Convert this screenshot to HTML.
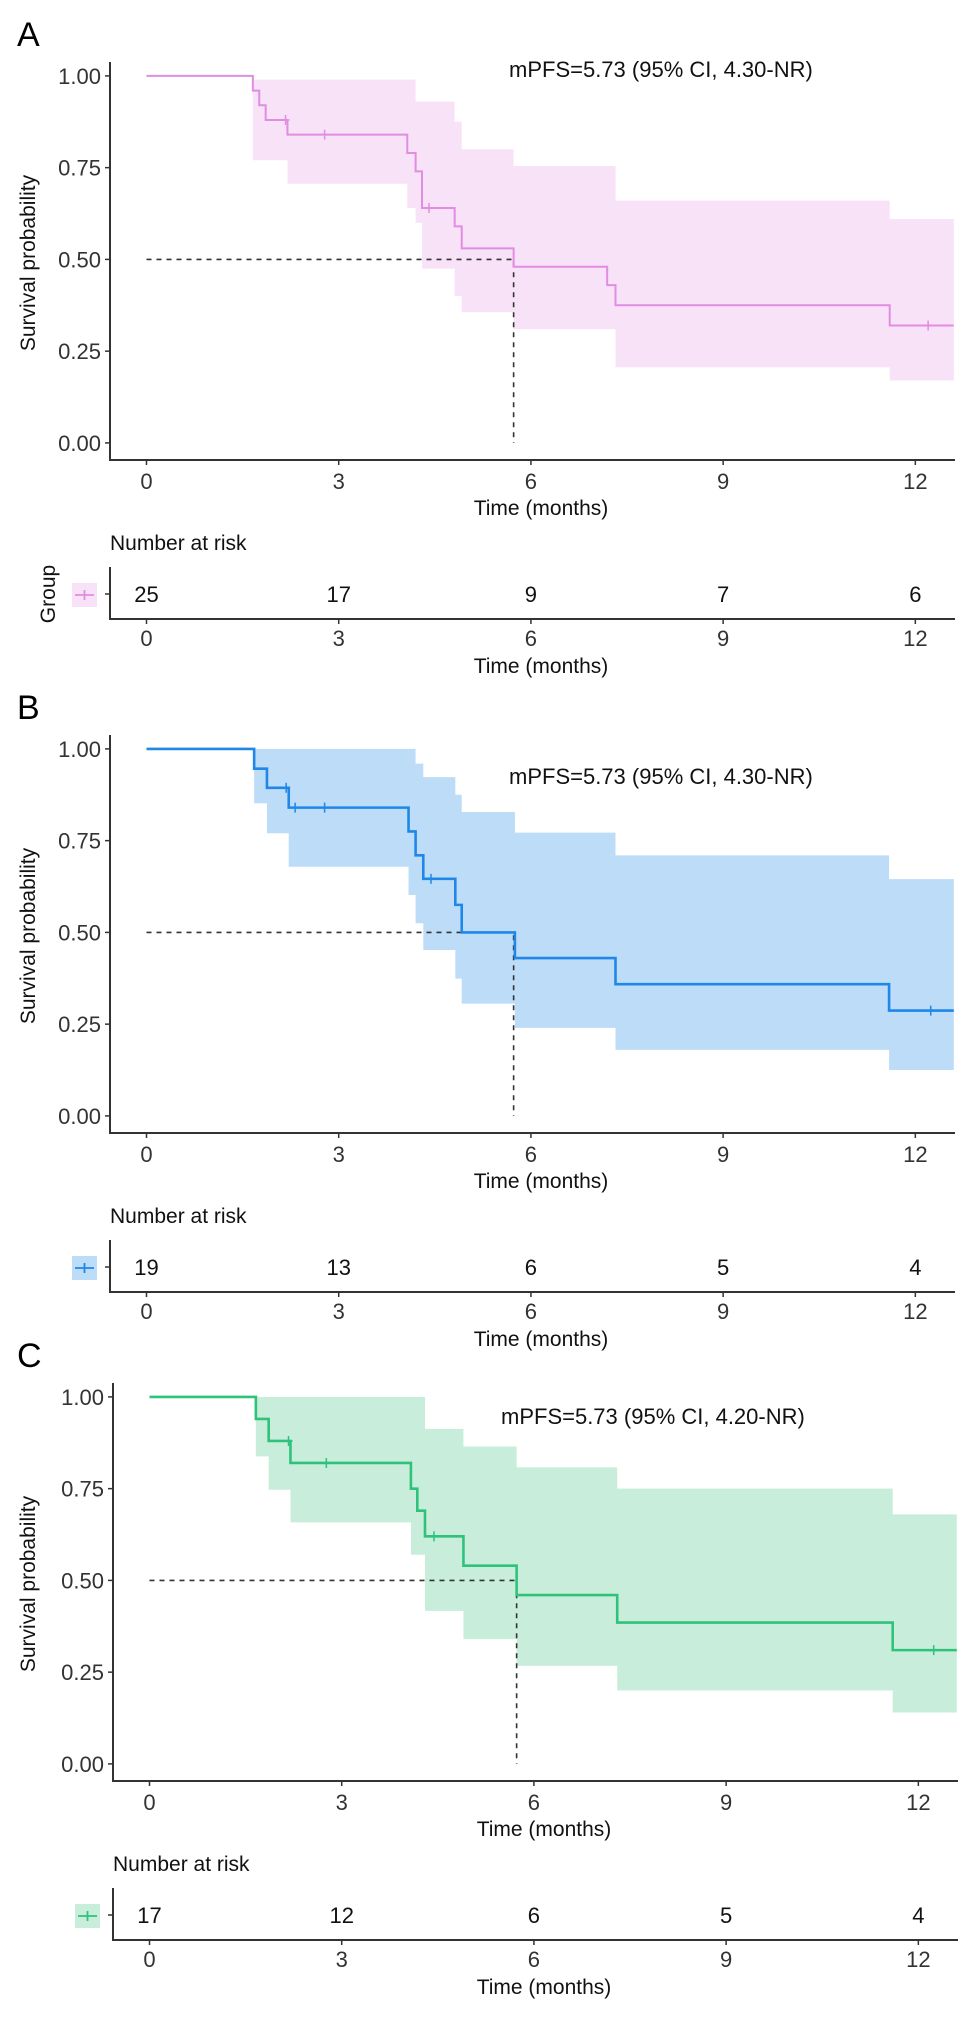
<!DOCTYPE html>
<html><head><meta charset="utf-8"><style>
html,body{margin:0;padding:0;background:#fff}
svg{display:block;font-family:"Liberation Sans",Arial,sans-serif}
</style></head><body>
<svg id="fig" width="969" height="2018" viewBox="0 0 969 2018" xmlns="http://www.w3.org/2000/svg"></svg>
<script>
const timeTicks=[0,3,6,9,12];
const probTicks=[0,0.25,0.5,0.75,1];
const probLabels=["0.00","0.25","0.50","0.75","1.00"];

const aTimes=[0,1.66,1.76,1.86,2.2,4.07,4.2,4.3,4.81,4.92,5.73,7.19,7.32,11.6];
const aSurv=[1,0.96,0.92,0.88,0.84,0.79,0.74,0.64,0.59,0.53,0.48,0.43,0.375,0.32];
const aUpper=[1,0.99,0.99,0.99,0.99,0.99,0.93,0.93,0.875,0.80,0.754,0.754,0.66,0.61];
const aLower=[1,0.77,0.77,0.77,0.706,0.64,0.60,0.475,0.40,0.356,0.31,0.31,0.206,0.17];
const aCensorT=[2.17,2.78,4.41,12.2];
const aCensorS=[0.88,0.84,0.64,0.32];
const aRisk=[25,17,9,7,6];

const bTimes=[0,1.68,1.88,2.22,4.09,4.2,4.32,4.82,4.92,5.75,7.32,11.59];
const bSurv=[1,0.946,0.894,0.84,0.775,0.71,0.646,0.575,0.50,0.43,0.359,0.287];
const bUpper=[1,1,1,1,1,0.96,0.923,0.875,0.828,0.772,0.71,0.645];
const bLower=[1,0.852,0.77,0.679,0.602,0.525,0.452,0.374,0.306,0.24,0.18,0.125];
const bCensorT=[2.18,2.32,2.78,4.44,12.24];
const bCensorS=[0.894,0.84,0.84,0.646,0.287];
const bRisk=[19,13,6,5,4];

const cTimes=[0,1.66,1.86,2.2,4.08,4.18,4.3,4.9,5.73,7.3,11.6];
const cSurv=[1,0.94,0.88,0.82,0.75,0.69,0.62,0.54,0.46,0.385,0.31];
const cUpper=[1,1,1,1,1,1,0.913,0.865,0.808,0.75,0.68];
const cLower=[1,0.838,0.747,0.658,0.57,0.57,0.417,0.34,0.267,0.20,0.14];
const cCensorT=[2.17,2.76,4.44,12.24];
const cCensorS=[0.88,0.82,0.62,0.31];
const cRisk=[17,12,6,5,4];

const NS="http://www.w3.org/2000/svg";
const svg=document.getElementById('fig');
function mk(tag,attrs,parent,text){const e=document.createElementNS(NS,tag);for(const k in attrs)e.setAttribute(k,attrs[k]);if(text!==undefined)e.textContent=text;(parent||svg).appendChild(e);return e;}

function panel(opt){
  const oy=opt.oy, dx=opt.dx;
  const g=mk('g',{transform:'translate('+dx+','+oy+')'});
  
  
  const X=t=>146.5+t*64.07;
  const Y=p=>442.9-p*367;
  const tEnd=12.6;
  let t;
  t=mk('text',{x:17-dx,y:46,'font-size':34,fill:'#000'},g,opt.letter);
  
  
  // band
  let up='',lo='';
  for(let i=0;i<opt.times.length;i++){
    const x1=X(opt.times[i]),x2=X(i+1<opt.times.length?opt.times[i+1]:tEnd);
    up+=(i?' L':'M')+x1+','+Y(opt.upper[i])+' L'+x2+','+Y(opt.upper[i]);
  }
  for(let i=opt.times.length-1;i>=0;i--){
    const x1=X(opt.times[i]),x2=X(i+1<opt.times.length?opt.times[i+1]:tEnd);
    lo+=' L'+x2+','+Y(opt.lower[i])+' L'+x1+','+Y(opt.lower[i]);
  }
  t=mk('path',{d:up+lo+' Z',fill:opt.fill,stroke:'none'},g);
  
  
  // median lines
  t=mk('path',{d:'M'+X(0)+','+Y(0.5)+' H'+X(opt.median)+' V'+Y(0),stroke:'#333',fill:'none','stroke-width':1.6,'stroke-dasharray':'5,5'},g);
  
  
  // curve
  let d='M'+X(0)+','+Y(opt.surv[0]);
  for(let i=1;i<opt.times.length;i++){d+=' H'+X(opt.times[i])+' V'+Y(opt.surv[i]);}
  d+=' H'+X(tEnd);
  t=mk('path',{d:d,stroke:opt.line,fill:'none','stroke-width':opt.lw},g);
  
  
  for(let i=0;i<opt.ct.length;i++){
    const cx=X(opt.ct[i]),cy=Y(opt.cs[i]);
    t=mk('path',{d:'M'+(cx-4)+','+cy+' H'+(cx+4)+' M'+cx+','+(cy-5)+' V'+(cy+5),stroke:opt.line,'stroke-width':1.5},g);
    
    
  }
  // axes
  t=mk('path',{d:'M110,62 V460 H955',stroke:'#333',fill:'none','stroke-width':2},g);
  
  
  for(let i=0;i<probTicks.length;i++){
    mk('line',{x1:105,x2:110,y1:Y(probTicks[i]),y2:Y(probTicks[i]),stroke:'#333','stroke-width':1.5},g);
    t=mk('text',{x:101,y:Y(probTicks[i])+8,'font-size':22,'text-anchor':'end',fill:'#333'},g,probLabels[i]);
    
    
  }
  for(let i=0;i<timeTicks.length;i++){
    mk('line',{x1:X(timeTicks[i]),x2:X(timeTicks[i]),y1:460,y2:465,stroke:'#333','stroke-width':1.5},g);
    t=mk('text',{x:X(timeTicks[i]),y:489,'font-size':22,'text-anchor':'middle',fill:'#333'},g,String(timeTicks[i]));
    
    
  }
  t=mk('text',{x:541,y:515,'font-size':21,'text-anchor':'middle',fill:'#111'},g,'Time (months)');
  
  
  t=mk('text',{x:0,y:0,'font-size':21,'text-anchor':'middle',fill:'#111',transform:'translate('+(35-dx)+',263) rotate(-90)'},g,'Survival probability');
  
  
  t=mk('text',{x:opt.tx,y:opt.ty,'font-size':22,fill:'#111'},g,opt.label);
  
  
  // risk table
  t=mk('text',{x:110,y:550,'font-size':21,fill:'#111'},g,'Number at risk');
  
  
  t=mk('path',{d:'M110,567 V619 H955',stroke:'#333',fill:'none','stroke-width':2},g);
  
  
  mk('line',{x1:105,x2:110,y1:594,y2:594,stroke:'#333','stroke-width':1.5},g);
  t=mk('rect',{x:72,y:583,width:25,height:24,fill:opt.fill},g);
  
  
  mk('path',{d:'M75,595 H94 M84.5,590 V600',stroke:opt.line,'stroke-width':1.8},g);
  if(opt.group){
    t=mk('text',{x:0,y:0,'font-size':21,'text-anchor':'middle',fill:'#111',transform:'translate(55,594) rotate(-90)'},g,'Group');
    
    
  }
  for(let i=0;i<timeTicks.length;i++){
    t=mk('text',{x:X(timeTicks[i]),y:602,'font-size':22,'text-anchor':'middle',fill:'#111'},g,String(opt.risk[i]));
    
    
    mk('line',{x1:X(timeTicks[i]),x2:X(timeTicks[i]),y1:619,y2:624,stroke:'#333','stroke-width':1.5},g);
    t=mk('text',{x:X(timeTicks[i]),y:646,'font-size':22,'text-anchor':'middle',fill:'#333'},g,String(timeTicks[i]));
    
    
  }
  t=mk('text',{x:541,y:673,'font-size':21,'text-anchor':'middle',fill:'#111'},g,'Time (months)');
  
  
}

panel({letter:'A',oy:0,dx:0,times:aTimes,surv:aSurv,upper:aUpper,lower:aLower,ct:aCensorT,cs:aCensorS,risk:aRisk,median:5.73,line:'#e08de2',fill:'#f8e2f8',lw:2,label:'mPFS=5.73 (95% CI, 4.30-NR)',tx:509,ty:77,group:true});
panel({letter:'B',oy:673,dx:0,times:bTimes,surv:bSurv,upper:bUpper,lower:bLower,ct:bCensorT,cs:bCensorS,risk:bRisk,median:5.73,line:'#1f87e8',fill:'#bddcf8',lw:2.6,label:'mPFS=5.73 (95% CI, 4.30-NR)',tx:509,ty:111,group:false});
panel({letter:'C',oy:1321,dx:3,times:cTimes,surv:cSurv,upper:cUpper,lower:cLower,ct:cCensorT,cs:cCensorS,risk:cRisk,median:5.73,line:'#2fc27b',fill:'#c8eedb',lw:2.6,label:'mPFS=5.73 (95% CI, 4.20-NR)',tx:498,ty:103,group:false});
</script>
</body></html>
